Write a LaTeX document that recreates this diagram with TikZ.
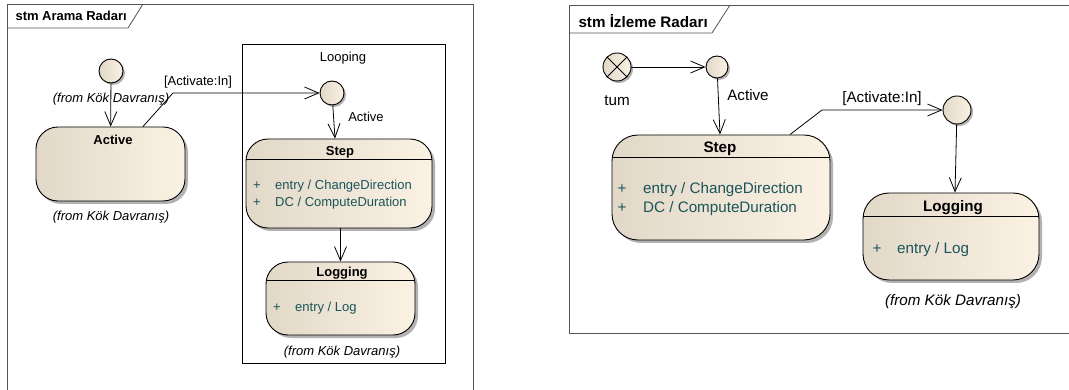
\documentclass[tikz,border=0pt]{standalone}
\usepackage{fontspec}
\setmainfont{Liberation Sans}
\usetikzlibrary{arrows.meta, shadows}
\definecolor{statefill}{RGB}{251,242,228}
\definecolor{stateshade}{RGB}{226,216,200}
\definecolor{entryteal}{RGB}{25,85,90}
\definecolor{framegray}{RGB}{85,85,85}
\newcommand{\fromnote}{\itshape (from Kök Davranış)}

\begin{document}
\begin{tikzpicture}[x=1pt, y=-1pt,
  state/.style={draw, line width=0.9pt, rounded corners=22pt, inner sep=0pt,
    left color=stateshade, right color=statefill,
    drop shadow={shadow xshift=3pt, shadow yshift=-3pt, fill=black, opacity=0.3}},
  initial/.style={circle, draw, line width=0.9pt, inner sep=0pt,
    left color=stateshade, right color=statefill,
    drop shadow={shadow xshift=2pt, shadow yshift=-2pt, fill=black, opacity=0.3}},
  trans/.style={-{Straight Barb[length=14pt,width=12pt,line width=0.8pt]}, line width=0.8pt},
  entry/.style={anchor=west, inner sep=0pt, text=entryteal},
  frame/.style={framegray, line width=0.8pt}]
  \useasboundingbox (0,0) rectangle (1069,390);
  % Left: stm Arama Radari
  \begin{scope}[every node/.append style={font=\fontsize{13}{15}\selectfont}]
    \draw[frame] (7,390) -- (7,4) -- (473,4) -- (473,390);
    \draw[frame] (7,28) -- (128,28) -- (143,4);
    \node[anchor=west] (titleA) at (12,16) {\bfseries stm Arama Radarı};
    \node[initial, minimum size=24pt] (initA) at (111,71) {};
    \node (fromA) at (111,99) {\fromnote};
    \node[state, minimum width=149pt, minimum height=74pt] (activeA) at (110.5,164) {};
    \node (activeAname) at (113,140) {\bfseries Active};
    \node (fromB) at (111,217) {\fromnote};
    \draw[trans] (initA) -- (activeA);
    % composite state
    \node[draw, line width=0.8pt, inner sep=0pt, minimum width=203pt, minimum height=319pt] (looping) at (343.5,203.5) {};
    \node (loopingname) at (343,58) {Looping};
    \node[initial, minimum size=24pt] (initL) at (332,93) {};
    \coordinate (bendA) at (173,93);
    \draw[trans] ([xshift=32.5pt]activeA.north) -- (bendA) -- (initL);
    \node (guardA) at (198,82) {[Activate:In]};
    \node[state, minimum width=186pt, minimum height=89pt] (stepA) at (339,183.5) {};
    \draw[line width=0.8pt] ([yshift=-21pt]stepA.north west) -- ([yshift=-21pt]stepA.north east);
    \node (stepAname) at (340,152) {\bfseries Step};
    \node[entry] (stepAe1) at (253,186) {\makebox[22pt][l]{+}entry / ChangeDirection};
    \node[entry] (stepAe2) at (253,203) {\makebox[22pt][l]{+}DC / ComputeDuration};
    \draw[trans] (initL) -- ([xshift=-4pt]stepA.north);
    \node (labelL) at (366,117) {Active};
    \node[state, minimum width=149pt, minimum height=73pt] (logA) at (340.5,298.5) {};
    \draw[line width=0.8pt] ([yshift=-19pt]logA.north west) -- ([yshift=-19pt]logA.north east);
    \node (logAname) at (342,273) {\bfseries Logging};
    \node[entry] (logAe1) at (273,308) {\makebox[22pt][l]{+}entry / Log};
    \draw[trans] (stepA.south -| logA.north) -- (logA.north);
    \node (fromC) at (342,352) {\fromnote};
  \end{scope}
  % Right: stm Izleme Radari
  \begin{scope}[every node/.append style={font=\fontsize{15.2}{18}\selectfont}]
    \draw[frame] (1069,5) -- (569,5) -- (569,333) -- (1069,333);
    \draw[frame] (569,33) -- (712,33) -- (730,5);
    \node[anchor=west] (titleB) at (575,21) {\bfseries stm İzleme Radarı};
    \node[initial, minimum size=28pt] (term) at (617,67) {};
    \draw[line width=0.9pt] (term.north east) -- (term.south west)
      (term.north west) -- (term.south east);
    \node (termname) at (617,101) {tum};
    \node[initial, minimum size=22pt] (initB) at (717,67) {};
    \draw[trans] (term) -- (initB);
    \node[state, rounded corners=26pt, minimum width=218pt, minimum height=105pt] (stepB) at (721,187.5) {};
    \draw[line width=0.8pt] ([yshift=-23pt]stepB.north west) -- ([yshift=-23pt]stepB.north east);
    \node (stepBname) at (720,149) {\bfseries Step};
    \node[entry] (stepBe1) at (617.5,190) {\makebox[25.5pt][l]{+}entry / ChangeDirection};
    \node[entry] (stepBe2) at (617.5,209) {\makebox[25.5pt][l]{+}DC / ComputeDuration};
    \draw[trans] (initB) -- ([xshift=-1pt]stepB.north);
    \node (labelB) at (748,95) {Active};
    \node[initial, minimum size=28pt] (initC) at (957,110) {};
    \coordinate (bendB) at (822,110);
    \draw[trans] ([xshift=69pt]stepB.north) -- (bendB) -- (initC);
    \node (guardB) at (882,99) {[Activate:In]};
    \node[state, rounded corners=26pt, minimum width=176pt, minimum height=87pt] (logB) at (951,236.5) {};
    \draw[line width=0.8pt] ([yshift=-24pt]logB.north west) -- ([yshift=-24pt]logB.north east);
    \node (logBname) at (953,208) {\bfseries Logging};
    \node[entry] (logBe1) at (872.5,250) {\makebox[24.5pt][l]{+}entry / Log};
    \draw[trans] (initC) -- ([xshift=4pt]logB.north);
    \node (fromD) at (953,302) {\fromnote};
  \end{scope}
\end{tikzpicture}
\end{document}
